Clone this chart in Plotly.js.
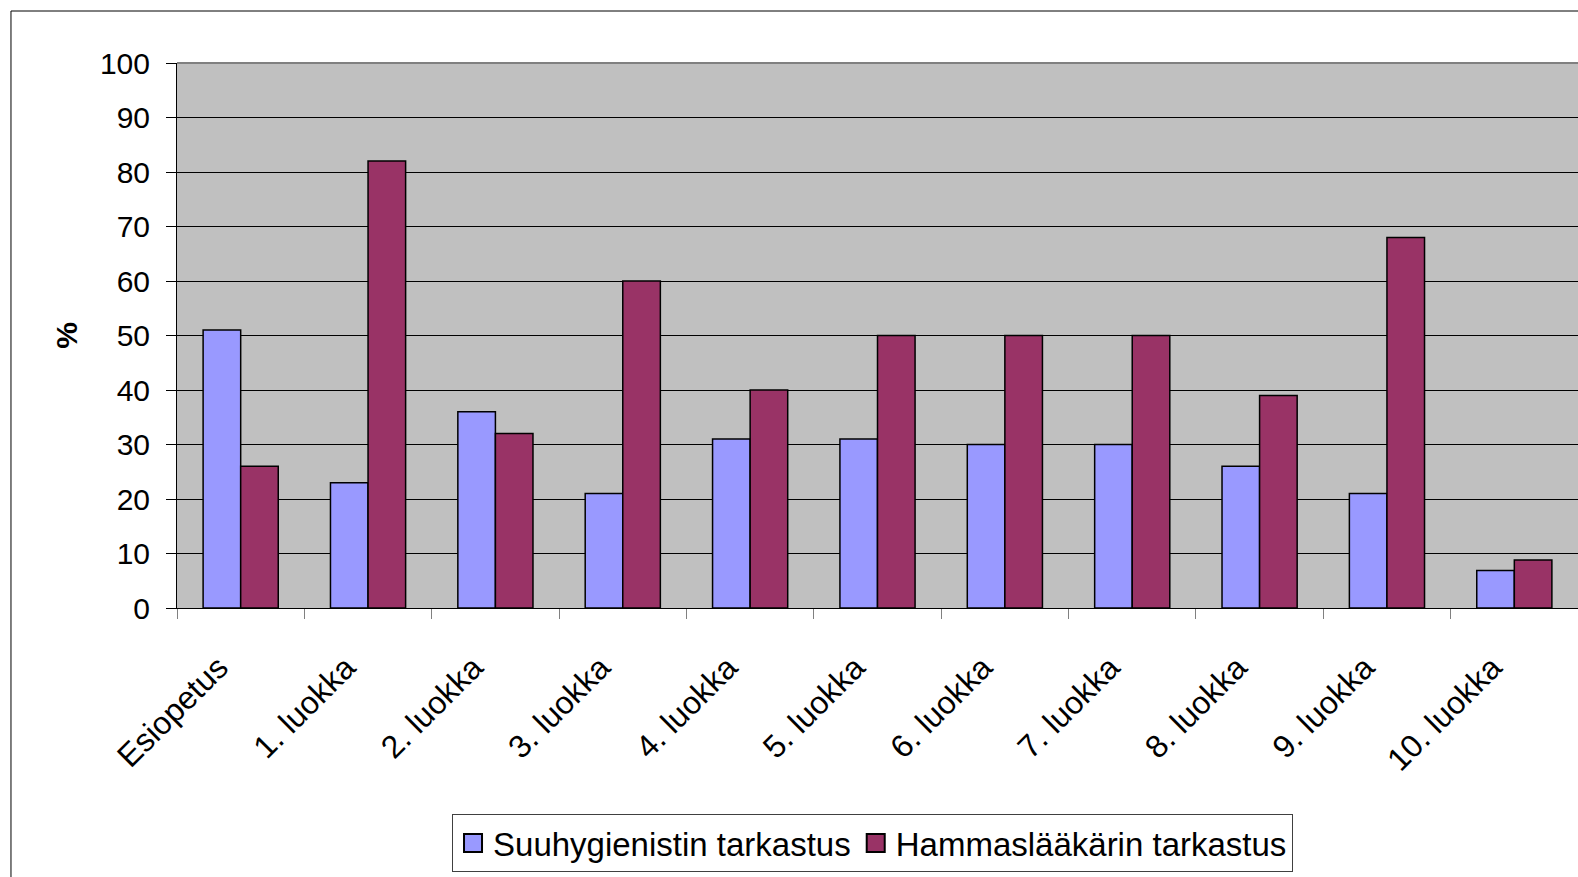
<!DOCTYPE html>
<html>
<head>
<meta charset="utf-8">
<script src="https://cdn.plot.ly/plotly-3.0.1.min.js"></script>
<style>html,body{margin:0;padding:0;background:#fff;}#chart{width:1578px;height:877px;}</style>
</head>
<body>
<div id="chart"></div>
<script>
const categories = ["Esiopetus", "1. luokka", "2. luokka", "3. luokka", "4. luokka", "5. luokka", "6. luokka", "7. luokka", "8. luokka", "9. luokka", "10. luokka"];
const suuhygienisti = [51, 23, 36, 21, 31, 31, 30, 30, 26, 21, 6.9];
const hammaslaakari = [26, 82, 32, 60, 40, 50, 50, 50, 39, 68, 8.8];
const seriesNames = ["Suuhygienistin tarkastus", "Hammaslääkärin tarkastus"];
const yTicks = [0, 10, 20, 30, 40, 50, 60, 70, 80, 90, 100];

const FONT = "Liberation Sans, Arial, sans-serif";

const traces = [
  {type: "bar", name: seriesNames[0], x: categories, y: suuhygienisti,
   marker: {color: "#9999FF", line: {color: "#000000", width: 1.5}}, hoverinfo: "x+y"},
  {type: "bar", name: seriesNames[1], x: categories, y: hammaslaakari,
   marker: {color: "#993366", line: {color: "#000000", width: 1.5}}, hoverinfo: "x+y"}
];

const layout = {
  width: 1578, height: 877,
  margin: {l: 177, r: 0, t: 63, b: 269, pad: 0},
  paper_bgcolor: "#ffffff",
  plot_bgcolor: "#C0C0C0",
  font: {family: FONT, color: "#000000", size: 30},
  barmode: "group",
  bargap: 0.41,
  bargroupgap: 0,
  showlegend: true,
  legend: {
    orientation: "h", x: 0.1963, xanchor: "left", y: -0.378, yanchor: "top",
    bgcolor: "#ffffff", bordercolor: "#404040", borderwidth: 1,
    font: {family: FONT, size: 33, color: "#000"},
    traceorder: "normal", itemclick: false
  },
  xaxis: {
    type: "category",
    tickson: "boundaries",
    ticks: "outside", ticklen: 10, tickcolor: "#808080", tickwidth: 1,
    tickangle: -45,
    ticklabelstandoff: 27,
    ticklabelshift: -22,
    tickfont: {family: FONT, size: 32, color: "#000"},
    showgrid: false, zeroline: false,
    showline: true, linecolor: "#000000", linewidth: 1,
    range: [-0.5, 10.5], fixedrange: true
  },
  yaxis: {
    range: [0, 100], tickvals: yTicks, ticktext: yTicks.map(String),
    ticks: "outside", ticklen: 10, tickcolor: "#000000", tickwidth: 1,
    ticklabelstandoff: 10,
    tickfont: {family: FONT, size: 30, color: "#000"},
    showgrid: true, gridcolor: "#000000", gridwidth: 1,
    zeroline: false,
    showline: true, linecolor: "#000000", linewidth: 1,
    title: {text: "<b>%</b>", font: {family: FONT, size: 30, color: "#000"}, standoff: 13},
    fixedrange: true
  },
  shapes: [
    {type: "line", xref: "paper", yref: "paper", x0: 0, x1: 1, y0: 1, y1: 1,
     line: {color: "#808080", width: 2}, layer: "above"},
    {type: "rect", xref: "paper", yref: "paper", x0: -0.1185, x1: 1.02, y0: -0.52, y1: 1.0954,
     line: {color: "#000000", width: 1}, fillcolor: "rgba(0,0,0,0)", layer: "above"}
  ]
};

function enlargeLegendSymbols() {
  document.querySelectorAll("#chart g.legendpoints path").forEach(p => {
    p.setAttribute("d", "M9,9H-9V-9H9Z");
    p.style.strokeWidth = "2px";
  });
}

Plotly.newPlot("chart", traces, layout, {displayModeBar: false}).then(gd => {
  enlargeLegendSymbols();
  setTimeout(enlargeLegendSymbols, 0);
  gd.on("plotly_afterplot", enlargeLegendSymbols);
});
</script>
</body>
</html>
